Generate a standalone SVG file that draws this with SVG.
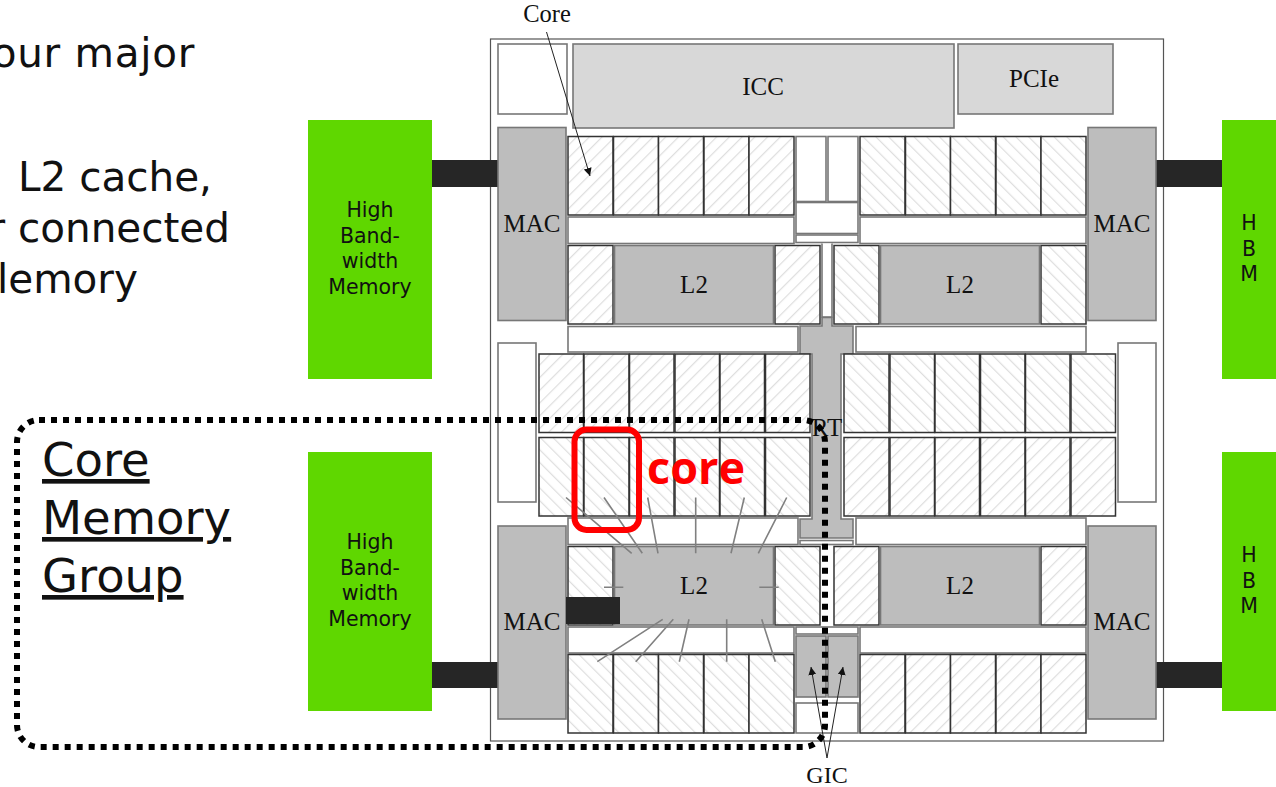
<svg xmlns="http://www.w3.org/2000/svg" width="1276" height="787" viewBox="0 0 1276 787">
<style>
text{fill:#111}
.s{font-family:"Liberation Serif",serif;font-size:25px;text-anchor:middle}
.d{font-family:"DejaVu Sans",sans-serif}
.h{font-size:40.500px;text-anchor:end}
.g{font-size:20.500px;text-anchor:middle}
.u{font-size:46.500px;text-decoration:underline}
.w{fill:#fff;stroke:#777;stroke-width:1.600}
.k{fill:#d8d8d8;stroke:#777;stroke-width:1.600}
.m{fill:#bdbdbd;stroke:#777;stroke-width:1.600}
.f{fill:url(#hf);stroke:#333;stroke-width:1.500}
.b{fill:url(#hb);stroke:#333;stroke-width:1.500}
.hbm{fill:#5fd700}
.dk{fill:#262626}
.t{stroke:#808080;stroke-width:1.600;fill:none}
.a{stroke:#222;stroke-width:1;fill:none;marker-end:url(#ah)}
</style>
<defs>
<pattern id="hf" width="9" height="9" patternUnits="userSpaceOnUse" patternTransform="rotate(45)"><rect width="9" height="9" fill="#fff"/><rect width="1.200" height="9" fill="#dedede"/></pattern>
<pattern id="hb" width="9" height="9" patternUnits="userSpaceOnUse" patternTransform="rotate(-45)"><rect width="9" height="9" fill="#fff"/><rect width="1.200" height="9" fill="#dedede"/></pattern>
<marker id="ah" markerWidth="10" markerHeight="10" refX="8" refY="4" orient="auto" markerUnits="userSpaceOnUse"><path d="M0 0L8 4L0 8Z" fill="#111"/></marker>
</defs>
<rect width="1276" height="787" fill="#fff"/>

<g id="intro-text">
<text class="d h" x="195" y="67" style="letter-spacing:0.700px">our major</text>
<text class="d h" x="212" y="191">L2 cache,</text>
<text class="d h" x="230" y="242">r connected</text>
<text class="d h" x="138" y="293">lemory</text>
</g>

<g id="hbm-left-top"><rect class="hbm" x="308" y="120" width="124" height="259"/>
<text class="d g" x="370" y="217">High</text><text class="d g" x="370" y="243">Band-</text><text class="d g" x="370" y="268">width</text><text class="d g" x="370" y="294">Memory</text></g>
<g id="hbm-left-bottom"><rect class="hbm" x="308" y="452" width="124" height="259"/>
<text class="d g" x="370" y="549">High</text><text class="d g" x="370" y="575">Band-</text><text class="d g" x="370" y="600">width</text><text class="d g" x="370" y="626">Memory</text></g>
<g id="hbm-right-top"><rect class="hbm" x="1222" y="120" width="54" height="259"/>
<text class="d g" x="1249" y="230">H</text><text class="d g" x="1249" y="256">B</text><text class="d g" x="1249" y="281">M</text></g>
<g id="hbm-right-bottom"><rect class="hbm" x="1222" y="452" width="54" height="259"/>
<text class="d g" x="1249" y="562">H</text><text class="d g" x="1249" y="588">B</text><text class="d g" x="1249" y="613">M</text></g>

<g id="die">
<rect x="490.500" y="39" width="673" height="702" fill="#fff" stroke="#555" stroke-width="1.200"/>
<rect class="w" x="498" y="44" width="69" height="70"/>
<rect class="w" x="1118" y="343" width="38" height="159"/>
<rect class="w" x="498" y="343" width="38" height="159"/>
</g>
<g id="links">
<rect class="dk" x="432" y="160" width="66" height="27"/>
<rect class="dk" x="432" y="662" width="66" height="26"/>
<rect class="dk" x="1156" y="160" width="66" height="27"/>
<rect class="dk" x="1156" y="662" width="66" height="26"/>
</g>
<g id="icc"><rect class="k" x="573" y="44" width="381" height="84"/><text class="s" x="763" y="95">ICC</text></g>
<g id="pcie"><rect class="k" x="958" y="44" width="155" height="70"/><text class="s" x="1034" y="87" style="font-size:25px">PCIe</text></g>
<g id="mac-tl"><rect class="m" x="498" y="127.500" width="68" height="193"/><text class="s" x="532" y="232">MAC</text></g>
<g id="mac-tr"><rect class="m" x="1088" y="127.500" width="68" height="193"/><text class="s" x="1122" y="232">MAC</text></g>
<g id="mac-bl"><rect class="m" x="498" y="526" width="68" height="193"/><text class="s" x="532" y="630">MAC</text></g>
<g id="mac-br"><rect class="m" x="1088" y="526" width="68" height="193"/><text class="s" x="1122" y="630">MAC</text></g>

<g id="bars">
<rect class="w" x="568" y="217" width="226" height="26.500"/>
<rect class="w" x="860" y="217" width="226" height="26.500"/>
<rect class="w" x="568" y="326.500" width="230" height="25.500"/>
<rect class="w" x="856" y="326.500" width="230" height="25.500"/>
<rect class="w" x="568" y="518" width="230" height="26.500"/>
<rect class="w" x="856" y="518" width="230" height="26.500"/>
<rect class="w" x="568" y="627" width="226" height="26"/>
<rect class="w" x="860" y="627" width="226" height="26"/>
</g>

<g id="center-top">
<rect class="w" x="796" y="136.500" width="30" height="65"/>
<rect class="w" x="828" y="136.500" width="30" height="65"/>
<rect class="w" x="796" y="202.500" width="62" height="31"/>
<rect class="w" x="796" y="235" width="62" height="7.500"/>
<path class="w" d="M822 243.500V317H832V243.500"/>
</g>
<g id="rt">
<path class="m" d="M822 326V317.500H832V326H853V354H841V519H853V538H800V519H812V354H800V326Z"/>
<rect class="w" x="800" y="540.500" width="53" height="4"/>
<text class="s" x="827" y="436">RT</text>
</g>
<g id="gic-blocks">
<rect class="w" x="796" y="627" width="62" height="7"/>
<rect class="m" x="796" y="636" width="30" height="61"/>
<rect class="m" x="828" y="636" width="30" height="61"/>
<rect class="w" x="796" y="703" width="62" height="30"/>
</g>

<g id="cores-top-left">
<rect class="f" x="568" y="136.500" width="45" height="78.500"/><rect class="f" x="613.500" y="136.500" width="45" height="78.500"/><rect class="f" x="658.500" y="136.500" width="45" height="78.500"/><rect class="f" x="704" y="136.500" width="45" height="78.500"/><rect class="f" x="749" y="136.500" width="45" height="78.500"/>
</g>
<g id="cores-top-right">
<rect class="b" x="860" y="136.500" width="45" height="78.500"/><rect class="b" x="905.500" y="136.500" width="45" height="78.500"/><rect class="b" x="950.500" y="136.500" width="45" height="78.500"/><rect class="b" x="996" y="136.500" width="45" height="78.500"/><rect class="b" x="1041" y="136.500" width="45" height="78.500"/>
</g>
<g id="cores-bottom-left">
<rect class="b" x="568" y="654.500" width="45" height="78.500"/><rect class="b" x="613.500" y="654.500" width="45" height="78.500"/><rect class="b" x="658.500" y="654.500" width="45" height="78.500"/><rect class="b" x="704" y="654.500" width="45" height="78.500"/><rect class="b" x="749" y="654.500" width="45" height="78.500"/>
</g>
<g id="cores-bottom-right">
<rect class="f" x="860" y="654.500" width="45" height="78.500"/><rect class="f" x="905.500" y="654.500" width="45" height="78.500"/><rect class="f" x="950.500" y="654.500" width="45" height="78.500"/><rect class="f" x="996" y="654.500" width="45" height="78.500"/><rect class="f" x="1041" y="654.500" width="45" height="78.500"/>
</g>
<g id="cores-mid-left">
<rect class="f" x="539" y="354" width="44.500" height="78.500"/><rect class="f" x="584" y="354" width="45" height="78.500"/><rect class="f" x="629.500" y="354" width="44.500" height="78.500"/><rect class="f" x="675" y="354" width="44.500" height="78.500"/><rect class="f" x="720" y="354" width="44.500" height="78.500"/><rect class="f" x="765.500" y="354" width="44.500" height="78.500"/>
<rect class="b" x="539" y="437.500" width="44.500" height="78.500"/><rect class="b" x="584" y="437.500" width="45" height="78.500"/><rect class="b" x="629.500" y="437.500" width="44.500" height="78.500"/><rect class="b" x="675" y="437.500" width="44.500" height="78.500"/><rect class="b" x="720" y="437.500" width="44.500" height="78.500"/><rect class="b" x="765.500" y="437.500" width="44.500" height="78.500"/>
</g>
<g id="cores-mid-right">
<rect class="b" x="844" y="354" width="45" height="78.500"/><rect class="b" x="890" y="354" width="44.500" height="78.500"/><rect class="b" x="935" y="354" width="44.500" height="78.500"/><rect class="b" x="980.500" y="354" width="44.500" height="78.500"/><rect class="b" x="1025.500" y="354" width="44.500" height="78.500"/><rect class="b" x="1071" y="354" width="44.500" height="78.500"/>
<rect class="f" x="844" y="437.500" width="45" height="78.500"/><rect class="f" x="890" y="437.500" width="44.500" height="78.500"/><rect class="f" x="935" y="437.500" width="44.500" height="78.500"/><rect class="f" x="980.500" y="437.500" width="44.500" height="78.500"/><rect class="f" x="1025.500" y="437.500" width="44.500" height="78.500"/><rect class="f" x="1071" y="437.500" width="44.500" height="78.500"/>
</g>

<g id="l2-row-top">
<rect class="f" x="568" y="245.500" width="45" height="78.500"/><rect class="f" x="775" y="245.500" width="45" height="78.500"/>
<rect class="b" x="834" y="245.500" width="45" height="78.500"/><rect class="b" x="1041" y="245.500" width="45" height="78.500"/>
</g>
<g id="l2-tl"><rect class="m" x="614.500" y="245.500" width="159" height="78.500"/><text class="s" x="694" y="293">L2</text></g>
<g id="l2-tr"><rect class="m" x="880.500" y="245.500" width="159" height="78.500"/><text class="s" x="960" y="293">L2</text></g>
<g id="l2-row-bottom">
<rect class="b" x="568" y="546.500" width="45" height="78.500"/><rect class="b" x="775" y="546.500" width="45" height="78.500"/>
<rect class="f" x="834" y="546.500" width="45" height="78.500"/><rect class="f" x="1041" y="546.500" width="45" height="78.500"/>
</g>
<g id="l2-bl"><rect class="m" x="614.500" y="546.500" width="159" height="78.500"/><text class="s" x="694" y="594">L2</text></g>
<g id="l2-br"><rect class="m" x="880.500" y="546.500" width="159" height="78.500"/><text class="s" x="960" y="594">L2</text></g>
<rect id="mac-l2-link" class="dk" x="566" y="597" width="54" height="27"/>

<g id="connectors">
<path class="t" d="M566 497.500L631.700 553.300M604 497.500L642.300 553.300M647.700 497.500L658 553.300M695.700 497.500V553.300M744.300 497.500L731 553.300M786.700 497.500L758.300 553.300M604 587.300H623.300M759.300 587.300H778.700M662.700 619.300L597.300 661.700M673.300 619.300L635.700 661.700M689 619.300L679.300 661.700M726.700 619.300V661.700M761.700 619.300L775.300 661.700"/>
<path class="a" d="M546.500 32L590 176"/>
<path class="a" d="M827 758L811 667"/>
<path class="a" d="M827 758L843 667"/>
</g>
<g id="arrow-labels">
<text class="s" x="547" y="22" style="font-size:24.500px">Core</text>
<text class="s" x="827" y="783" style="font-size:24px">GIC</text>
</g>

<g id="core-memory-group">
<rect x="17" y="420" width="808" height="327" rx="22" fill="none" stroke="#000" stroke-width="6" stroke-dasharray="6 6"/>
<text class="d u" x="42" y="476">Core</text>
<text class="d u" x="42" y="534">Memory</text>
<text class="d u" x="42" y="592">Group</text>
</g>
<g id="core-highlight">
<rect x="574.500" y="429.500" width="64.500" height="100.500" rx="12" fill="none" stroke="#f00" stroke-width="6"/>
<text x="647" y="484" style="fill:#f00;font-family:'Open Sans',sans-serif;font-weight:700;font-size:45px">core</text>
</g>
</svg>
